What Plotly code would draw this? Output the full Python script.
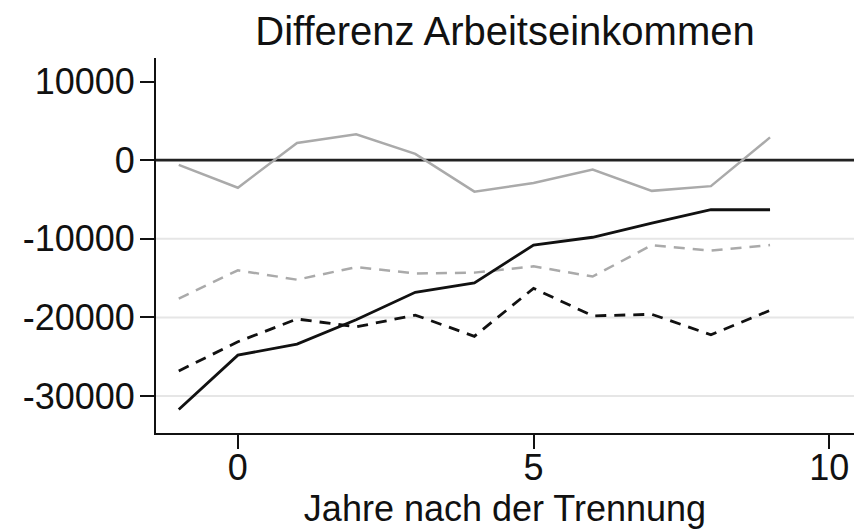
import plotly.graph_objects as go

years = [-1, 0, 1, 2, 3, 4, 5, 6, 7, 8, 9]
solid_black = [-31700, -24800, -23400, -20300, -16800, -15600, -10800, -9800, -8000, -6300, -6300]
dashed_black = [-26800, -23100, -20200, -21200, -19700, -22400, -16300, -19800, -19600, -22200, -19100]
solid_gray = [-600, -3500, 2200, 3300, 800, -4000, -2900, -1200, -3900, -3300, 2900]
dashed_gray = [-17600, -14000, -15200, -13600, -14400, -14300, -13500, -14800, -10800, -11500, -10800]

y_ticks = [10000, 0, -10000, -20000, -30000]
grid_vals = [-10000, -20000, -30000]
x_ticks = [0, 5, 10]

FONT = "Liberation Sans, Arial, sans-serif"
# the page body adds an 8px offset, so the figure is a bit smaller than the window
W, H = 857, 521
L, R, T, B = 148, 11, 50, 96

fig = go.Figure()
fig.add_trace(go.Scatter(x=years, y=solid_gray, mode="lines",
                         line=dict(color="#aaaaaa", width=2.5)))
fig.add_trace(go.Scatter(x=years, y=dashed_gray, mode="lines",
                         line=dict(color="#aaaaaa", width=2.5, dash="11px,8px")))
fig.add_trace(go.Scatter(x=years, y=dashed_black, mode="lines",
                         line=dict(color="#111111", width=2.8, dash="11px,8px")))
fig.add_trace(go.Scatter(x=years, y=solid_black, mode="lines",
                         line=dict(color="#111111", width=2.8)))

shapes = []
for g in grid_vals:
    shapes.append(dict(type="line", xref="paper", yref="y", x0=0, x1=1, y0=g, y1=g,
                       line=dict(color="#e6e6e6", width=2), layer="below"))
shapes.append(dict(type="line", xref="paper", yref="y", x0=0, x1=1, y0=0, y1=0,
                   line=dict(color="#222222", width=2.7), layer="below"))

fig.update_layout(
    width=W, height=H,
    margin=dict(l=L, r=R, t=T, b=B),
    paper_bgcolor="white", plot_bgcolor="white",
    showlegend=False,
    shapes=shapes,
    title=dict(text="Differenz Arbeitseinkommen", x=497 / W, xanchor="center",
               y=0.955, yanchor="middle",
               font=dict(family=FONT, size=40, color="#111111")),
    font=dict(family=FONT, color="#111111"),
)
fig.update_xaxes(range=[-1.385, 10.42], tickvals=x_ticks, ticktext=[str(t) for t in x_ticks],
                 showgrid=False, zeroline=False, showline=True, linecolor="#111111", linewidth=2,
                 ticks="outside", ticklen=14, tickwidth=2, tickcolor="#111111", automargin=False,
                 ticklabelstandoff=-12,
                 tickfont=dict(size=36, family=FONT, color="#111111"),
                 title=dict(text="Jahre nach der Trennung", font=dict(size=36, family=FONT, color="#111111"),
                            standoff=4))
fig.update_yaxes(range=[-34700, 13000], tickvals=y_ticks, ticktext=[str(t) for t in y_ticks],
                 showgrid=False, zeroline=False, showline=True, linecolor="#111111", linewidth=2,
                 ticks="outside", ticklen=14, tickwidth=2, tickcolor="#111111", automargin=False,
                 ticklabelstandoff=-2,
                 tickfont=dict(size=36, family=FONT, color="#111111"))

fig.write_html("out.html")
